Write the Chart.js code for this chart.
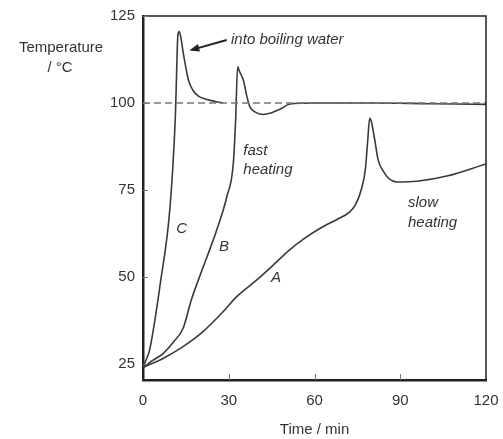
<!DOCTYPE html>
<html>
<head>
<meta charset="utf-8">
<script src="https://cdn.jsdelivr.net/npm/chart.js@4/dist/chart.umd.min.js"></script>
<style>
  html, body { margin: 0; padding: 0; background: #fff; }
  #wrap { width: 503px; height: 439px; }
</style>
</head>
<body>
<div id="wrap"><canvas id="chart" width="503" height="439"></canvas></div>
<script>
// Heating curves (temperature vs time)
const xTicks = [0, 30, 60, 90, 120];
const yTicks = [25, 50, 75, 100, 125];

// curve C - put straight into boiling water
const timeC = [0, 1, 2.3, 4.7, 6.4, 7.8, 9, 10, 10.8, 11.4, 11.8, 12.2, 12.7, 13.3, 14.1, 15.9, 17.5, 19.4, 21.5, 23.4, 26, 28];
const tempC = [24, 26, 29, 40.5, 50.1, 57.8, 66, 76, 87, 98, 110, 119.5, 120.5, 118.5, 114.3, 106.6, 103.6, 102, 101.2, 100.8, 100.3, 100];

// curve B - fast heating
const timeB = [0, 3, 7, 10.5, 14, 16.9, 19.8, 23.3, 26, 29.3, 31.6, 32.4, 33.1, 33.8, 35.1, 36.3, 37.4, 39.5, 42.1, 45, 47.9, 51.4, 60, 80, 100, 120];
const tempB = [24, 25.8, 28, 31.2, 35.2, 43.4, 50.1, 57.8, 64, 73, 82.7, 95, 110.4, 109, 106.6, 102, 98.9, 97.3, 96.7, 97.2, 98.2, 99.7, 100, 100, 99.8, 99.6];

// curve A - slow heating
const timeA = [0, 7, 14, 21, 28, 32.7, 39.7, 45, 51.3, 56, 62, 68, 72, 74.5, 76.5, 77.8, 78.6, 79.3, 79.9, 81, 82.3, 84, 86, 88.8, 95.8, 106.3, 120];
const tempA = [24, 26.6, 30, 34.3, 40, 44.3, 49.1, 53, 57.8, 60.8, 64, 66.6, 68.5, 71, 75.5, 81, 89, 95.6, 94.6, 89.8, 83.6, 80.5, 78.3, 77.3, 77.5, 79, 82.5];

// boiling point reference
const boilTime = [0, 120];
const boilTemp = [100, 100];

const pts = (xs, ys) => xs.map((x, i) => ({ x, y: ys[i] }));

const LINE = '#3a3a3a';
const FONT = 'Liberation Sans, Arial, Helvetica, sans-serif';

// text labels placed in data units
const notes = [
  { text: 'into boiling water', x: 30.8, y: 118.1, align: 'left' },
  { text: 'fast', x: 35.1, y: 86.3, align: 'left' },
  { text: 'heating', x: 35.1, y: 80.7, align: 'left' },
  { text: 'slow', x: 92.7, y: 71.2, align: 'left' },
  { text: 'heating', x: 92.7, y: 65.6, align: 'left' },
  { text: 'C', x: 13.5, y: 63.8, align: 'center' },
  { text: 'B', x: 28.3, y: 58.7, align: 'center' },
  { text: 'A', x: 46.5, y: 49.7, align: 'center' }
];
const arrow = { from: { x: 29.3, y: 118.1 }, to: { x: 16.2, y: 115.1 } };

// ─── frame, inward ticks, notes ──────────────────────────────────────────────
const decorations = {
  id: 'decorations',
  afterDatasetsDraw(chart) {
    const { ctx, chartArea: a, scales: { x, y } } = chart;
    ctx.save();

    // top and right frame lines
    ctx.strokeStyle = '#222';
    ctx.lineWidth = 1.5;
    ctx.beginPath();
    ctx.moveTo(a.left, a.top);
    ctx.lineTo(a.right, a.top);
    ctx.lineTo(a.right, a.bottom);
    ctx.stroke();

    // inward tick marks
    ctx.strokeStyle = '#777';
    ctx.lineWidth = 1;
    ctx.beginPath();
    xTicks.slice(1, -1).forEach(v => {
      const px = Math.round(x.getPixelForValue(v)) + 0.5;
      ctx.moveTo(px, a.bottom);
      ctx.lineTo(px, a.bottom - 6);
    });
    yTicks.forEach(v => {
      const py = Math.round(y.getPixelForValue(v)) + 0.5;
      ctx.moveTo(a.left, py);
      ctx.lineTo(a.left + 5, py);
    });
    ctx.stroke();

    // italic notes
    ctx.fillStyle = '#333';
    ctx.textBaseline = 'middle';
    ctx.font = 'italic 15px ' + FONT;
    notes.forEach(n => {
      ctx.textAlign = n.align;
      ctx.fillText(n.text, x.getPixelForValue(n.x), y.getPixelForValue(n.y));
    });

    // arrow to curve C
    const x0 = x.getPixelForValue(arrow.from.x), y0 = y.getPixelForValue(arrow.from.y);
    const x1 = x.getPixelForValue(arrow.to.x), y1 = y.getPixelForValue(arrow.to.y);
    const ang = Math.atan2(y1 - y0, x1 - x0);
    ctx.strokeStyle = '#222';
    ctx.lineWidth = 2;
    ctx.beginPath();
    ctx.moveTo(x0, y0);
    ctx.lineTo(x1 - 6 * Math.cos(ang), y1 - 6 * Math.sin(ang));
    ctx.stroke();
    ctx.fillStyle = '#222';
    ctx.beginPath();
    ctx.moveTo(x1, y1);
    ctx.lineTo(x1 - 10 * Math.cos(ang) + 4 * Math.sin(ang), y1 - 10 * Math.sin(ang) - 4 * Math.cos(ang));
    ctx.lineTo(x1 - 10 * Math.cos(ang) - 4 * Math.sin(ang), y1 - 10 * Math.sin(ang) + 4 * Math.cos(ang));
    ctx.closePath();
    ctx.fill();

    // y axis title, horizontal in the top-left corner
    ctx.fillStyle = '#333';
    ctx.font = '15px ' + FONT;
    ctx.textAlign = 'center';
    ctx.fillText('Temperature', 61, 48);
    ctx.fillText('/ °C', 60, 68);

    ctx.restore();
  }
};

const curve = (data) => ({
  data,
  borderColor: LINE,
  borderWidth: 1.6,
  pointRadius: 0,
  showLine: true,
  fill: false,
  cubicInterpolationMode: 'monotone'
});

new Chart(document.getElementById('chart'), {
  type: 'scatter',
  data: {
    datasets: [
      {
        data: pts(boilTime, boilTemp),
        borderColor: '#777',
        borderWidth: 1.3,
        borderDash: [7, 4],
        pointRadius: 0,
        showLine: true
      },
      curve(pts(timeC, tempC)),
      curve(pts(timeB, tempB)),
      curve(pts(timeA, tempA))
    ]
  },
  options: {
    responsive: false,
    animation: false,
    layout: { padding: { top: 16, right: 17, left: 0, bottom: 0 } },
    plugins: { legend: { display: false }, tooltip: { enabled: false } },
    scales: {
      x: {
        type: 'linear',
        min: 0,
        max: 120,
        afterBuildTicks: s => { s.ticks = xTicks.map(v => ({ value: v })); },
        afterFit: s => { s.height = 59; s.paddingLeft = 0; s.paddingRight = 0; },
        grid: { display: false, drawTicks: false },
        border: { display: true, color: '#222', width: 2.5 },
        ticks: { color: '#333', padding: 12, font: { family: FONT, size: 15 } },
        title: {
          display: true,
          text: 'Time / min',
          color: '#333',
          padding: { top: 0, bottom: 0 },
          font: { family: FONT, size: 15 }
        }
      },
      y: {
        type: 'linear',
        min: 20.4,
        max: 125,
        afterBuildTicks: s => { s.ticks = yTicks.map(v => ({ value: v })); },
        afterFit: s => { s.width = 143; s.paddingTop = 0; s.paddingBottom = 0; },
        grid: { display: false, drawTicks: false },
        border: { display: true, color: '#222', width: 2.5 },
        ticks: { color: '#333', padding: 8, font: { family: FONT, size: 15 } }
      }
    }
  },
  plugins: [decorations]
});
</script>
</body>
</html>
